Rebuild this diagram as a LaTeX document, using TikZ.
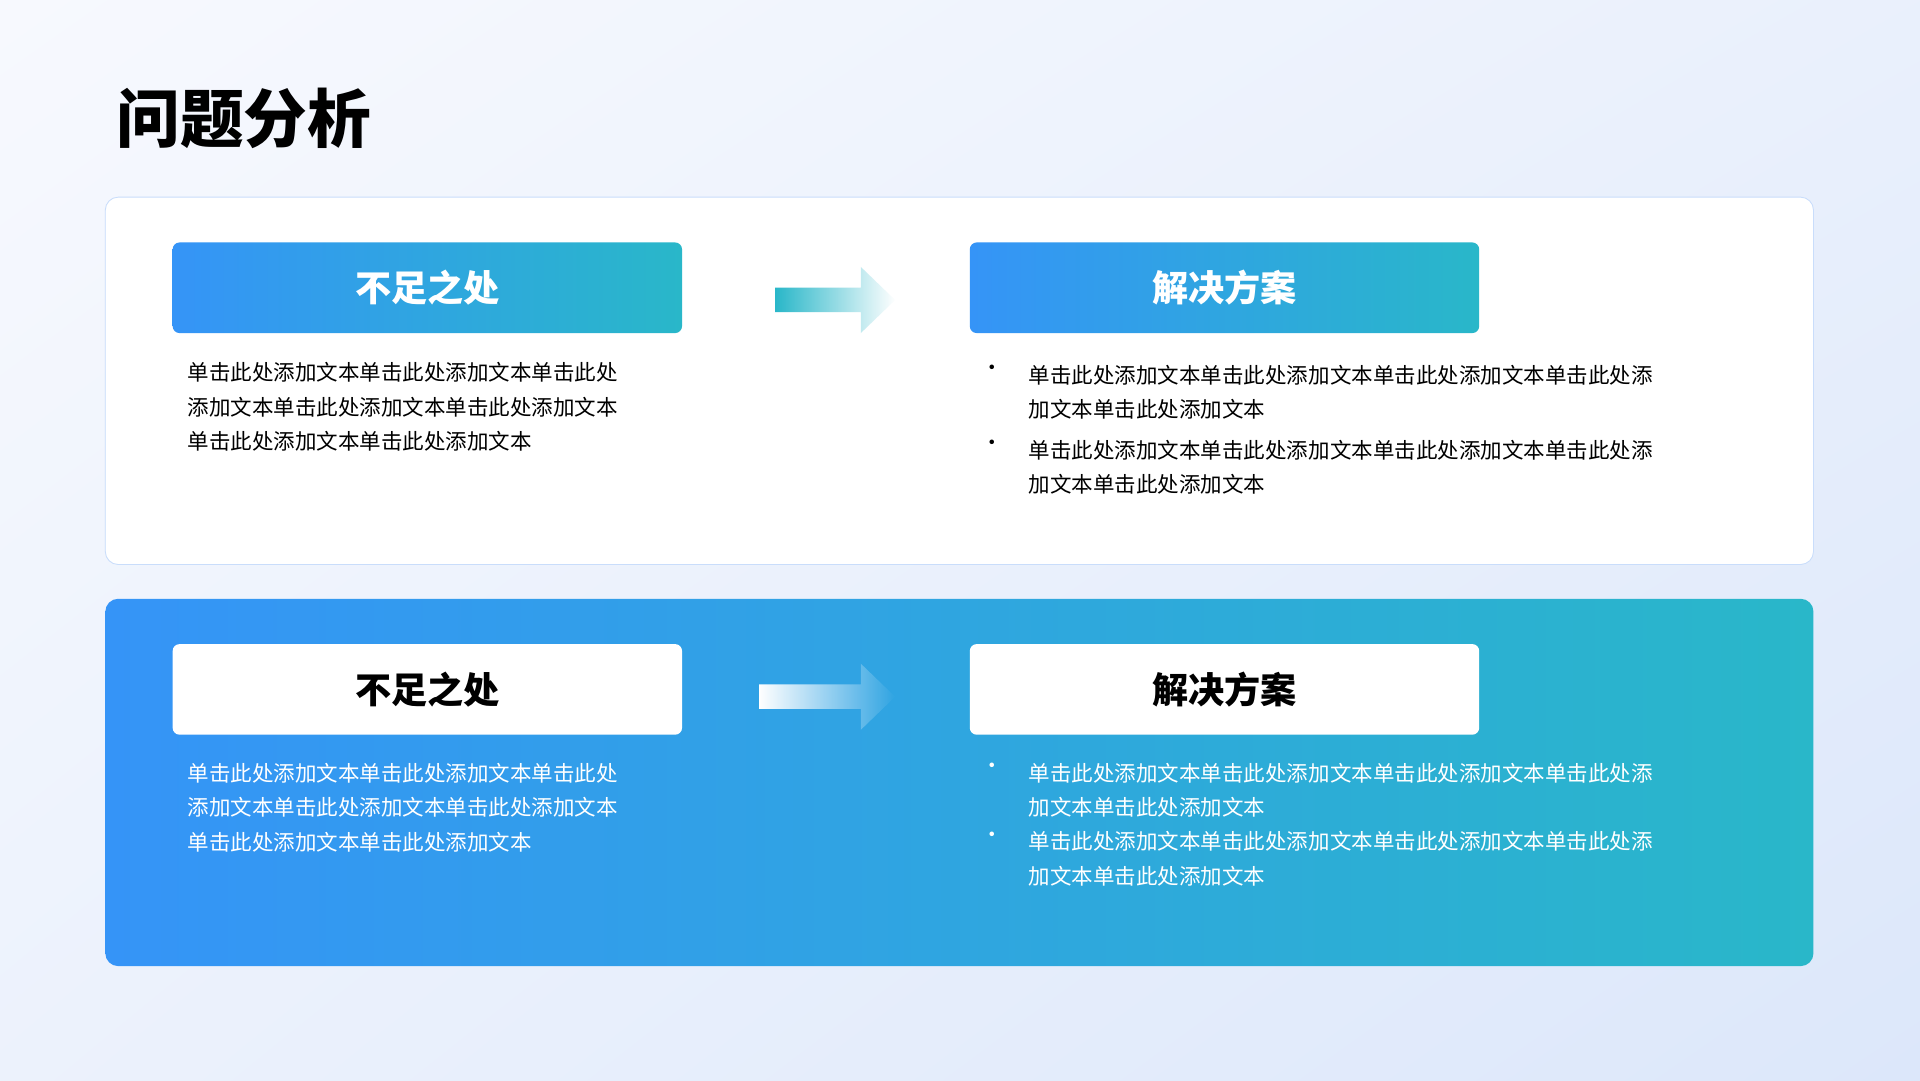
\documentclass[tikz,border=0pt]{standalone}
\usepackage{fontspec}
\setmainfont{Noto Sans CJK SC}
\usetikzlibrary{fadings,shadows,shadings}
\definecolor{cblue}{HTML}{3594F7}
\definecolor{cteal}{HTML}{29B7C9}
\definecolor{bgA}{HTML}{F7F9FE}
\definecolor{bgB}{HTML}{DCE7FA}
\definecolor{bordc}{HTML}{C9DDFB}
\tikzset{
  hdrgrad/.style={rounded corners=8, left color=cblue, right color=cteal, draw=none},
  hdrwhite/.style={rounded corners=8, fill=white, draw=none},
  hdrtxt/.style={font=\fontsize{42}{44}\selectfont\bfseries, anchor=center},
  body/.style={font=\fontsize{25}{40}\selectfont, anchor=north west, align=left, inner sep=0pt},
  bullet/.style={font=\fontsize{25}{40}\selectfont, anchor=north west, inner sep=0pt},
}
\begin{document}
\begin{tikzpicture}[x=0.5mm,y=-0.5mm]
\useasboundingbox (0,0) rectangle (1568,882);
\shade[upper left=bgA, lower right=bgB, upper right=bgA!50!bgB, lower left=bgA!60!bgB] (0,0) rectangle (1568,882);
\node[font=\fontsize{74}{76}\selectfont\bfseries, anchor=west, inner sep=0pt] (title) at (95,97) {问题分析};
% top card
\path[fill=white, draw=bordc, line width=1pt, rounded corners=15, drop shadow={shadow xshift=0pt, shadow yshift=0pt, opacity=0.15, fill=cblue}] (86,161) rectangle (1481,461);
\path[hdrgrad] (141,198) rectangle (557,272);
\node[hdrtxt, text=white] (h1) at (349,235) {不足之处};
\path[hdrgrad] (792,198) rectangle (1208,272);
\node[hdrtxt, text=white] (h2) at (1000,235) {解决方案};
\fill[cteal, path fading=east] (633,235) -- (703,235) -- (703,218) -- (731,245) -- (703,272) -- (703,255) -- (633,255) -- cycle;
\node[body] (t1) at (153,296) {单击此处添加文本单击此处添加文本单击此处\\添加文本单击此处添加文本单击此处添加文本\\单击此处添加文本单击此处添加文本};
\node[bullet] (b1) at (801,298) {•};
\node[body] (t2) at (840,298) {单击此处添加文本单击此处添加文本单击此处添加文本单击此处添\\加文本单击此处添加文本};
\node[bullet] (b2) at (801,359) {•};
\node[body] (t3) at (840,359) {单击此处添加文本单击此处添加文本单击此处添加文本单击此处添\\加文本单击此处添加文本};
% bottom card
\path[left color=cblue, right color=cteal, rounded corners=15] (86,489) rectangle (1481,789);
\path[hdrwhite] (141,526) rectangle (557,600);
\node[hdrtxt, text=black] (h3) at (349,563) {不足之处};
\path[hdrwhite] (792,526) rectangle (1208,600);
\node[hdrtxt, text=black] (h4) at (1000,563) {解决方案};
\fill[white, path fading=east] (620,559) -- (703,559) -- (703,542) -- (731,569) -- (703,596) -- (703,579) -- (620,579) -- cycle;
\node[body, text=white] (t4) at (153,623) {单击此处添加文本单击此处添加文本单击此处\\添加文本单击此处添加文本单击此处添加文本\\单击此处添加文本单击此处添加文本};
\node[bullet, text=white] (b3) at (801,623) {•};
\node[body, text=white] (t5) at (840,623) {单击此处添加文本单击此处添加文本单击此处添加文本单击此处添\\加文本单击此处添加文本};
\node[bullet, text=white] (b4) at (801,679) {•};
\node[body, text=white] (t6) at (840,679) {单击此处添加文本单击此处添加文本单击此处添加文本单击此处添\\加文本单击此处添加文本};
\end{tikzpicture}
\end{document}
